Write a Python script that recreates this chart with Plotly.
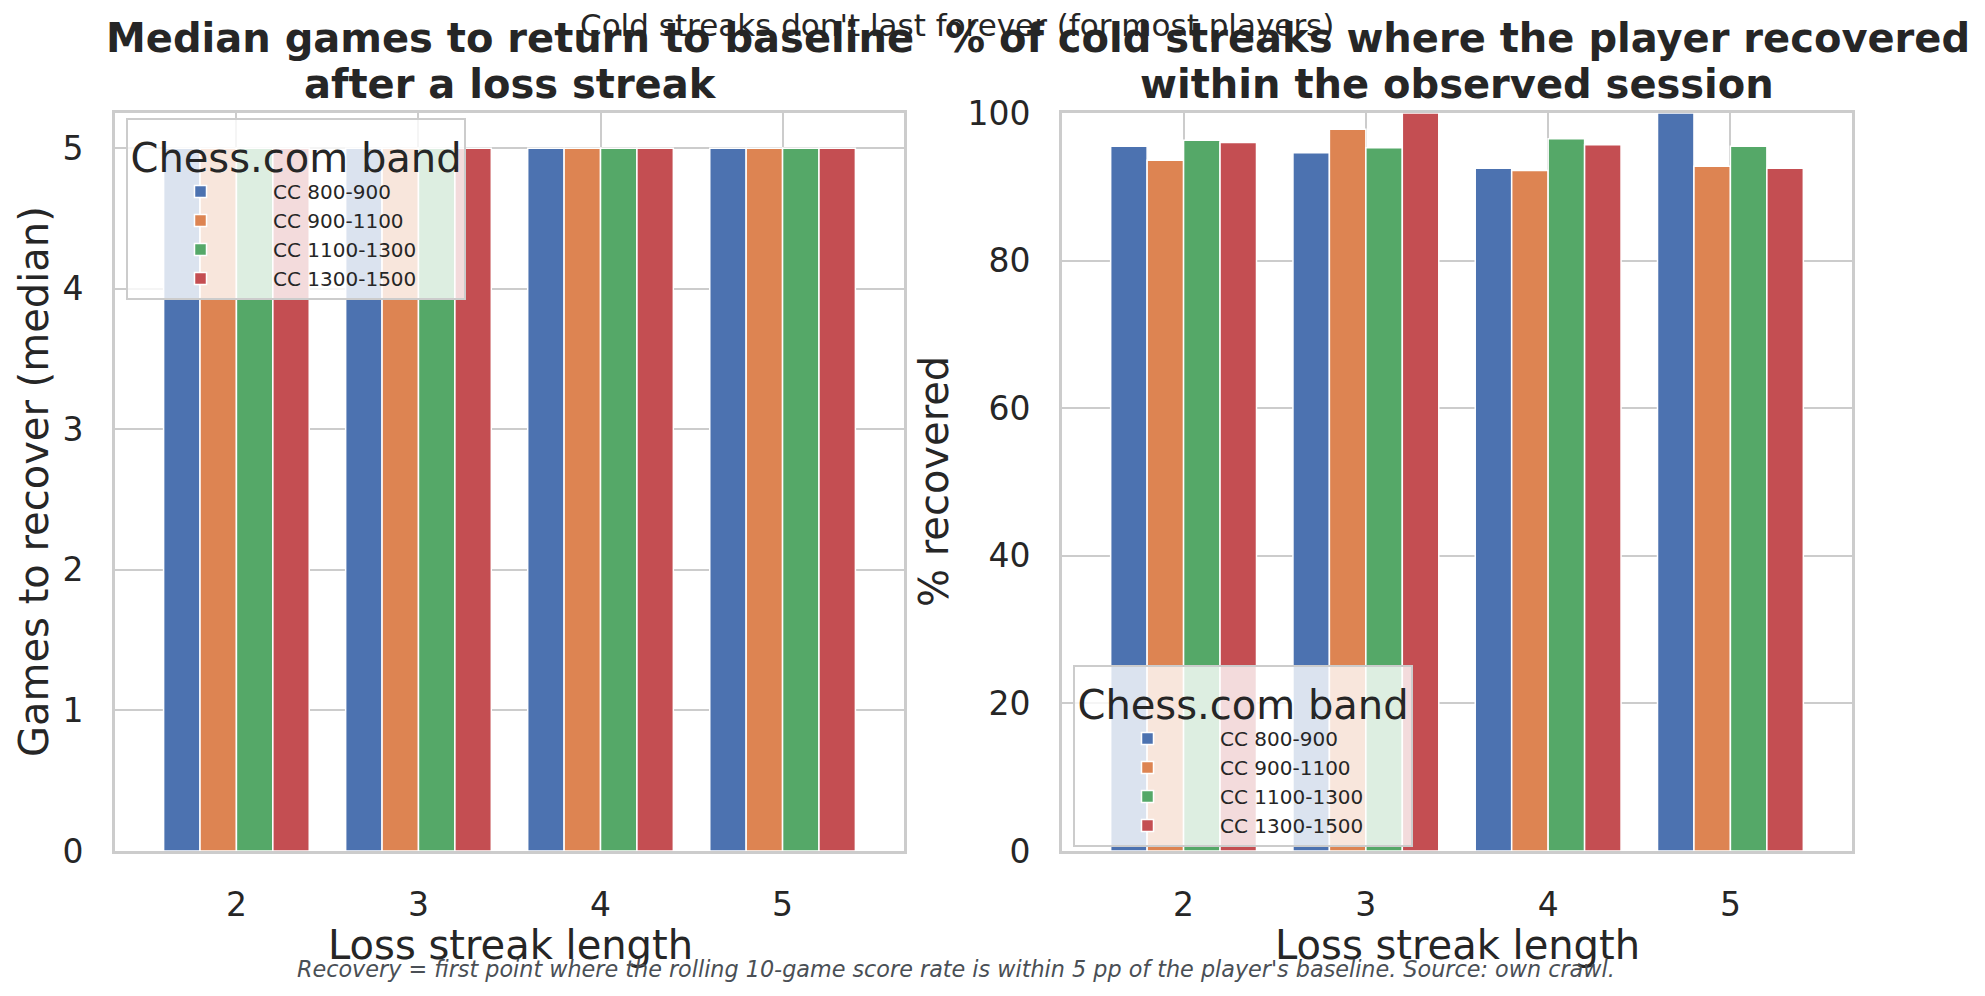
import plotly.graph_objects as go

# loss streak lengths on the x axis
streak_lengths = ["2", "3", "4", "5"]
bands = ["CC 800-900", "CC 900-1100", "CC 1100-1300", "CC 1300-1500"]
band_colors = ["#4C72B0", "#DD8452", "#55A868", "#C44E52"]

# median games to recover, per band
median_800_900 = [5, 5, 5, 5]
median_900_1100 = [5, 5, 5, 5]
median_1100_1300 = [5, 5, 5, 5]
median_1300_1500 = [5, 5, 5, 5]

# % of cold streaks recovered, per band
pct_800_900 = [95.5, 94.6, 92.5, 100.0]
pct_900_1100 = [93.6, 97.8, 92.2, 92.8]
pct_1100_1300 = [96.3, 95.3, 96.5, 95.5]
pct_1300_1500 = [96.0, 100.0, 95.7, 92.5]

median_series = [median_800_900, median_900_1100, median_1100_1300, median_1300_1500]
pct_series = [pct_800_900, pct_900_1100, pct_1100_1300, pct_1300_1500]

W, H = 1985, 996
PAGE_OFFSET = 8  # default body margin of the html page
text_color = "#262626"
grid_color = "#cccccc"
font_family = "DejaVu Sans"

fig = go.Figure()

for band, color, vals in zip(bands, band_colors, median_series):
    fig.add_trace(go.Bar(x=streak_lengths, y=vals, name=band, marker_color=color,
                         marker_line_color="white", marker_line_width=1.5,
                         xaxis="x", yaxis="y", legend="legend"))

for band, color, vals in zip(bands, band_colors, pct_series):
    fig.add_trace(go.Bar(x=streak_lengths, y=vals, name=band, marker_color=color,
                         marker_line_color="white", marker_line_width=1.5,
                         xaxis="x2", yaxis="y2", legend="legend2"))


def px_x(v):
    return (v - PAGE_OFFSET) / W


def px_y(v):
    return 1 - (v - PAGE_OFFSET) / H


axis_common = dict(showline=True, mirror=True, linecolor=grid_color, linewidth=3,
                   showgrid=True, gridcolor=grid_color, gridwidth=2, zeroline=False,
                   ticks="", ticklabelstandoff=22, automargin=False,
                   tickfont=dict(size=33, color=text_color, family=font_family))

legend_common = dict(bgcolor="rgba(255,255,255,0.8)", bordercolor=grid_color, borderwidth=2,
                     font=dict(size=20, color=text_color, family=font_family),
                     title=dict(text="Chess.com band", side="top center",
                                font=dict(size=40, color=text_color, family=font_family)),
                     xanchor="left", yanchor="top", tracegroupgap=0, itemwidth=135)

fig.update_layout(
    width=W, height=H,
    margin=dict(l=0, r=0, t=0, b=0, autoexpand=False),
    paper_bgcolor="white", plot_bgcolor="white",
    barmode="group", bargap=0.2, bargroupgap=0,
    font=dict(family=font_family, color=text_color),
    xaxis=dict(domain=[px_x(115), px_x(904)], anchor="y", type="category",
               range=[-0.667, 3.667], **axis_common),
    yaxis=dict(domain=[px_y(851), px_y(113)], anchor="x", range=[0, 5.25], dtick=1,
               **axis_common),
    xaxis2=dict(domain=[px_x(1062), px_x(1852)], anchor="y2", type="category",
                range=[-0.667, 3.667], **axis_common),
    yaxis2=dict(domain=[px_y(851), px_y(113)], anchor="x2", range=[0, 100], dtick=20,
                **axis_common),
    legend=dict(x=px_x(126), y=px_y(118), **legend_common),
    legend2=dict(x=px_x(1073), y=px_y(665), **legend_common),
)

annotations = [
    # subplot titles
    dict(text="<b>Median games to return to baseline</b>", x=px_x(510), y=px_y(38)),
    dict(text="<b>after a loss streak</b>", x=px_x(510), y=px_y(84)),
    dict(text="<b>% of cold streaks where the player recovered</b>", x=px_x(1457), y=px_y(38)),
    dict(text="<b>within the observed session</b>", x=px_x(1457), y=px_y(84)),
]
for a in annotations:
    a.update(xref="paper", yref="paper", xanchor="center", yanchor="middle", showarrow=False,
             font=dict(size=40, color=text_color, family=font_family))

annotations += [
    dict(text="Cold streaks don't last forever (for most players)", x=px_x(957), y=px_y(25),
         xref="paper", yref="paper", showarrow=False, xanchor="center", yanchor="middle",
         font=dict(size=31, color=text_color, family=font_family)),
    dict(text="Loss streak length", x=px_x(510), y=px_y(945), xref="paper", yref="paper",
         showarrow=False, xanchor="center", yanchor="middle",
         font=dict(size=40, color=text_color, family=font_family)),
    dict(text="Loss streak length", x=px_x(1457), y=px_y(945), xref="paper", yref="paper",
         showarrow=False, xanchor="center", yanchor="middle",
         font=dict(size=40, color=text_color, family=font_family)),
    dict(text="Games to recover (median)", x=px_x(34), y=px_y(482), textangle=-90,
         xref="paper", yref="paper", showarrow=False, xanchor="center", yanchor="middle",
         font=dict(size=40, color=text_color, family=font_family)),
    dict(text="% recovered", x=px_x(934), y=px_y(482), textangle=-90,
         xref="paper", yref="paper", showarrow=False, xanchor="center", yanchor="middle",
         font=dict(size=40, color=text_color, family=font_family)),
    dict(text="<i>Recovery = first point where the rolling 10-game score rate is within 5 pp of "
              "the player's baseline. Source: own crawl.</i>",
         x=px_x(956), y=px_y(969), xref="paper", yref="paper", showarrow=False,
         xanchor="center", yanchor="middle",
         font=dict(size=22.3, color="#4a4f55", family=font_family)),
]
fig.update_layout(annotations=annotations)

fig.write_html("out.html")
